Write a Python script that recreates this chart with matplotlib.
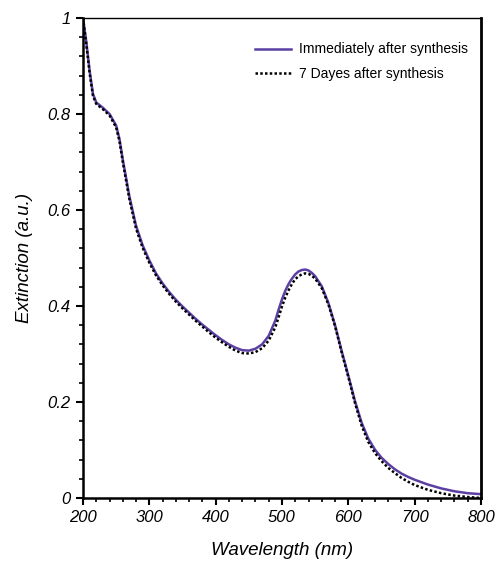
import matplotlib
matplotlib.use("Agg")
import matplotlib.pyplot as plt
from matplotlib.ticker import MultipleLocator

wl_a = [200, 205, 210, 215, 220, 230, 240, 250, 255, 260, 270, 280, 290, 300,
        310, 320, 330, 340, 350, 360, 370, 380, 390, 400, 410, 420, 430, 440,
        450, 460, 470, 480, 490, 495, 500, 505, 510, 515, 520, 525, 530, 535,
        540, 545, 550, 560, 570, 580, 590, 600, 610, 620, 630, 640, 650, 660,
        670, 680, 690, 700, 720, 740, 760, 780, 800]
ext_a = [1.00, 0.95, 0.89, 0.842, 0.824, 0.813, 0.800, 0.776, 0.748, 0.705,
         0.628, 0.567, 0.526, 0.495, 0.468, 0.447, 0.429, 0.413, 0.399, 0.386,
         0.373, 0.361, 0.350, 0.339, 0.329, 0.320, 0.313, 0.308, 0.307, 0.311,
         0.320, 0.338, 0.370, 0.393, 0.414, 0.432, 0.446, 0.457, 0.466, 0.472,
         0.475, 0.476, 0.474, 0.469, 0.462, 0.441, 0.406, 0.360, 0.306, 0.255,
         0.202, 0.157, 0.124, 0.101, 0.084, 0.071, 0.060, 0.051, 0.044, 0.038,
         0.028, 0.020, 0.014, 0.010, 0.008]
ext_b = [1.00, 0.945, 0.885, 0.838, 0.821, 0.810, 0.797, 0.772, 0.743, 0.700,
         0.622, 0.561, 0.521, 0.490, 0.464, 0.443, 0.425, 0.409, 0.395, 0.382,
         0.369, 0.357, 0.345, 0.334, 0.324, 0.315, 0.307, 0.302, 0.301, 0.304,
         0.312, 0.328, 0.356, 0.377, 0.399, 0.418, 0.433, 0.446, 0.456, 0.462,
         0.466, 0.468, 0.467, 0.463, 0.457, 0.437, 0.403, 0.358, 0.303, 0.252,
         0.198, 0.151, 0.117, 0.094, 0.077, 0.063, 0.052, 0.042, 0.034, 0.027,
         0.017, 0.010, 0.005, 0.002, 0.000]

label_a = "Immediately after synthesis"
label_b = "7 Dayes after synthesis"
xticks = [200, 300, 400, 500, 600, 700, 800]
xticklabels = ["200", "300", "400", "500", "600", "700", "800"]
yticks = [0, 0.2, 0.4, 0.6, 0.8, 1.0]
yticklabels = ["0", "0.2", "0.4", "0.6", "0.8", "1"]

plt.rcParams['font.family'] = ['Liberation Sans', 'DejaVu Sans']

fig = plt.figure(figsize=(4.95, 5.71), dpi=100)
ax = fig.add_axes([83/495, 73/571, 398/495, 480/571])

ax.plot(wl_a, ext_a, color='#5b3fa3', lw=1.8, label=label_a, zorder=2)
ax.plot(wl_a, ext_b, color='black', lw=1.8, ls=(0, (1.0, 0.9)), label=label_b, zorder=3)

ax.set_xlim(200, 800)
ax.set_ylim(0, 1)
ax.set_xticks(xticks)
ax.set_xticklabels(xticklabels, fontsize=12, style='italic')
ax.set_yticks(yticks)
ax.set_yticklabels(yticklabels, fontsize=12, style='italic')
ax.xaxis.set_minor_locator(MultipleLocator(20))
ax.yaxis.set_minor_locator(MultipleLocator(0.04))
ax.tick_params(which='major', direction='out', length=5, width=1.5, pad=4)
ax.tick_params(which='minor', direction='out', length=3, width=1.2)
ax.tick_params(top=False, right=False, which='both')

for s in ['left', 'bottom']:
    ax.spines[s].set_linewidth(1.8)
ax.spines['right'].set_linewidth(2.0)
ax.spines['top'].set_linewidth(1.0)

ax.set_xlabel("Wavelength (nm)", fontsize=13.5, style='italic', labelpad=12)
ax.set_ylabel("Extinction (a.u.)", fontsize=13.5, style='italic', labelpad=10)

ax.legend(loc='upper right', frameon=False, fontsize=10, handlelength=2.6,
          bbox_to_anchor=(1.0, 0.975), handletextpad=0.6, labelspacing=0.75)

fig.savefig("out.png", dpi=100)
